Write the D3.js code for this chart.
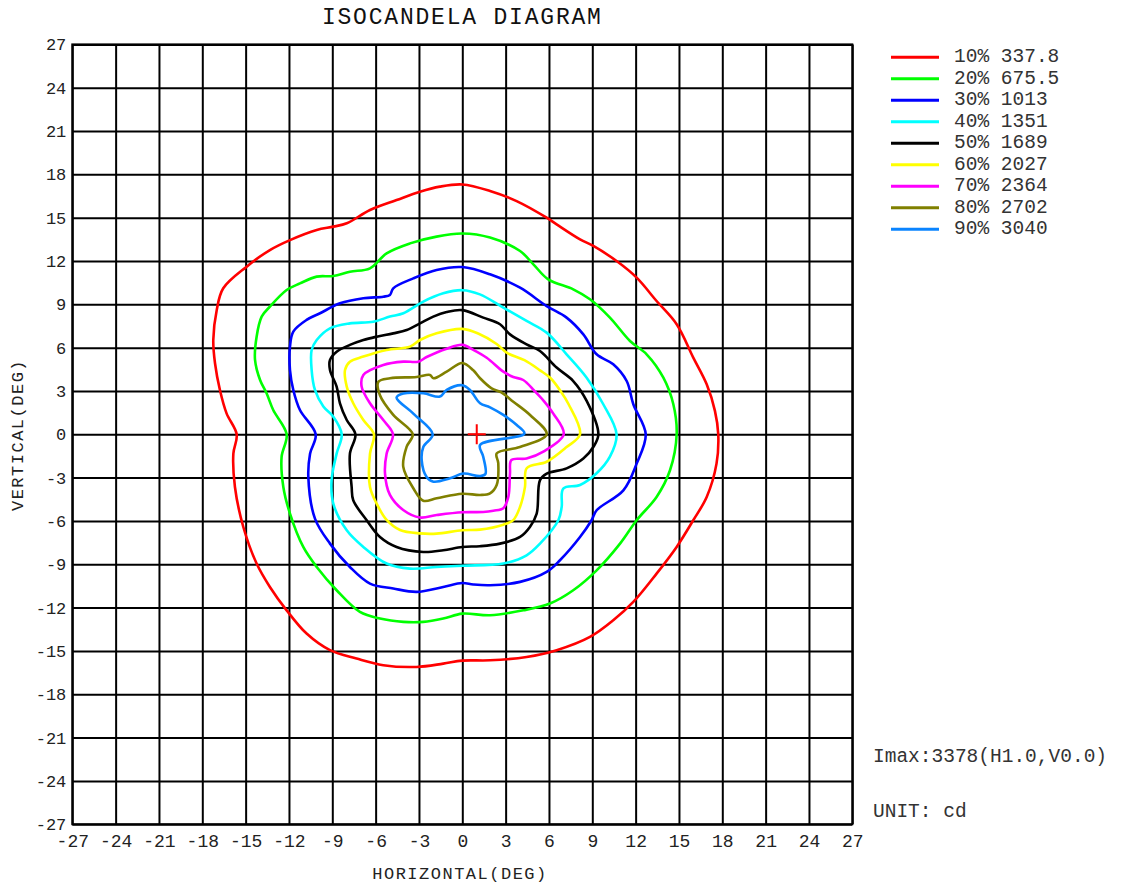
<!DOCTYPE html>
<html>
<head>
<meta charset="utf-8">
<script src="https://cdn.jsdelivr.net/npm/d3@7"></script>
<style>
  html, body { margin: 0; padding: 0; background: #fff; }
  svg { display: block; }
  text { font-family: "Liberation Mono", "Courier New", monospace; fill: #222; }
</style>
</head>
<body>
<svg id="chart" width="1126" height="884"></svg>
<script>
// ---------- DATA ----------
const hTicks = [-27,-24,-21,-18,-15,-12,-9,-6,-3,0,3,6,9,12,15,18,21,24,27];
const vTicks = [-27,-24,-21,-18,-15,-12,-9,-6,-3,0,3,6,9,12,15,18,21,24,27];
const levelPercents = ["10%","20%","30%","40%","50%","60%","70%","80%","90%"];
const levelValues = ["337.8","675.5","1013","1351","1689","2027","2364","2702","3040"];
const imaxText = "Imax:3378(H1.0,V0.0)";
const unitText = "UNIT: cd";
const imaxPos = [1.0, 0.0];

// contour polylines [horizontal deg, vertical deg]
const contour10 = [[0,17.3],[1.92,16.85],[3.76,16.15],[5.84,15.0],[6.53,14.54],[8.15,13.5],[9.07,13.04],[10.68,12.0],[12.07,10.85],[13.45,9.23],[14.84,7.62],[15.99,5.31],[16.92,3.46],[17.49,1.62],[17.72,0],[17.6,-2.03],[16.92,-4.34],[15.99,-5.95],[14.84,-7.8],[13.45,-9.65],[11.84,-11.61],[10.45,-12.88],[8.84,-14.03],[6.53,-14.95],[4.45,-15.42],[1.92,-15.65],[0,-15.67],[-1.32,-15.88],[-3.16,-16.11],[-5.47,-15.99],[-7.32,-15.53],[-9.16,-14.95],[-10.78,-13.8],[-12.16,-12.19],[-13.32,-10.57],[-14.24,-8.95],[-15.16,-6.42],[-15.74,-3.65],[-15.85,-1.34],[-15.62,0],[-16.32,1.45],[-16.78,3.07],[-17.12,4.92],[-17.24,6.53],[-17.0,8.61],[-16.55,10.11],[-14.93,11.61],[-13.32,12.76],[-11.93,13.45],[-10.08,14.15],[-8.93,14.38],[-8.0,14.61],[-6.39,15.53],[-4.55,16.22],[-2.93,16.8],[-1.55,17.15]];
const contour20 = [[0,13.9],[1.92,13.62],[4.0,12.69],[4.92,11.77],[5.95,10.73],[7.68,10.04],[8.84,9.35],[10.22,8.08],[11.61,6.46],[12.76,5.54],[13.92,3.92],[14.61,2.08],[14.84,0],[14.38,-2.49],[13.45,-4.34],[12.07,-5.95],[10.92,-7.57],[9.3,-9.42],[7.68,-10.8],[6.07,-11.72],[4.22,-12.19],[1.92,-12.53],[0,-12.42],[-1.32,-12.76],[-2.7,-12.99],[-4.08,-12.99],[-5.7,-12.76],[-7.09,-12.3],[-8.7,-10.8],[-10.08,-9.19],[-11.01,-7.8],[-11.93,-5.49],[-12.39,-3.65],[-12.51,-1.57],[-12.16,0],[-13.09,1.68],[-13.55,2.84],[-14.0,3.76],[-14.35,5.15],[-14.24,6.76],[-13.89,8.15],[-13.32,8.84],[-12.16,9.99],[-11.24,10.45],[-10.08,10.92],[-8.93,10.96],[-7.78,11.26],[-6.39,11.49],[-5.24,12.53],[-3.62,13.22],[-1.78,13.69]];
const contour30 = [[0,11.58],[1.92,11.08],[4.0,10.15],[5.84,8.88],[7.22,8.08],[8.38,6.92],[9.3,5.54],[10.45,4.85],[11.38,3.69],[11.84,2.08],[12.7,0],[12.07,-2.03],[11.15,-3.88],[9.3,-5.26],[8.95,-5.95],[8.15,-7.11],[6.76,-8.72],[5.84,-9.53],[4.0,-10.22],[1.92,-10.45],[0.76,-10.4],[0,-10.3],[-1.32,-10.57],[-3.16,-10.91],[-4.78,-10.68],[-6.39,-10.34],[-7.78,-9.19],[-9.16,-7.57],[-10.2,-5.84],[-10.66,-2.95],[-10.54,-1.34],[-10.15,0],[-11.24,1.68],[-11.7,3.07],[-11.93,4.45],[-11.93,6.07],[-11.7,7.11],[-10.78,7.92],[-9.85,8.38],[-8.47,9.07],[-6.85,9.42],[-5.47,9.53],[-5.01,9.65],[-4.78,10.11],[-3.39,10.8],[-1.78,11.38]];
const contour40 = [[0,9.98],[1.22,9.69],[2.84,8.77],[4.45,7.85],[5.84,7.04],[7.22,5.54],[8.61,3.92],[9.76,2.08],[10.68,0],[10.22,-1.55],[9.3,-2.7],[8.15,-3.51],[6.99,-3.76],[6.88,-5.03],[6.65,-5.95],[5.38,-7.57],[4.45,-8.38],[2.84,-8.95],[0,-9.1],[-1.78,-9.19],[-3.62,-9.3],[-5.24,-8.95],[-6.85,-7.8],[-8.0,-6.65],[-8.93,-4.8],[-9.05,-3.18],[-8.7,-1.34],[-8.35,0],[-8.93,1.22],[-9.62,1.92],[-10.2,3.07],[-10.43,4.45],[-10.43,5.84],[-10.08,6.53],[-9.16,7.34],[-7.78,7.68],[-6.16,7.8],[-5.01,8.15],[-4.08,8.38],[-2.7,9.19],[-1.32,9.76]];
const contour50 = [[0,8.6],[1.45,8.08],[2.61,7.62],[3.3,6.92],[4.45,6.23],[5.38,5.77],[6.53,4.62],[7.68,3.69],[8.61,2.31],[9.42,0],[9.07,-0.88],[8.38,-1.68],[7.22,-2.36],[5.84,-2.72],[5.38,-3.17],[5.15,-5.49],[4.68,-6.42],[4.0,-7.11],[2.61,-7.57],[1.22,-7.75],[0,-7.8],[-1.32,-8.03],[-2.7,-8.15],[-4.55,-7.8],[-5.7,-7.11],[-6.62,-5.95],[-7.55,-4.57],[-7.66,-3.65],[-7.78,-1.34],[-7.4,0],[-8.0,0.99],[-8.47,2.15],[-8.7,3.3],[-9.16,4.45],[-9.16,5.15],[-8.7,5.72],[-7.78,6.19],[-6.85,6.53],[-5.93,6.76],[-4.78,6.99],[-3.85,7.22],[-2.93,7.68],[-2.01,8.15],[-1.08,8.47]];
const contour60 = [[0,7.3],[1.1,6.98],[2.38,6.25],[3.07,5.65],[4.3,5.13],[5.38,4.43],[6.1,3.9],[6.8,3.0],[7.35,2.1],[8.15,0],[7.22,-0.88],[5.84,-1.9],[4.46,-2.35],[4.34,-3.64],[4.0,-5.02],[3.53,-5.94],[2.84,-6.26],[1.22,-6.6],[0,-6.64],[-1.78,-6.88],[-2.93,-6.86],[-4.31,-6.63],[-5.24,-5.93],[-5.93,-4.8],[-6.39,-3.65],[-6.39,-1.34],[-6.12,0],[-6.85,0.99],[-7.55,2.15],[-8.0,3.3],[-8.12,4.45],[-7.78,5.03],[-6.85,5.38],[-5.24,5.84],[-3.62,6.07],[-2.93,6.53],[-1.78,6.99]];
const contour70 = [[0,6.2],[0.76,5.85],[1.69,5.3],[2.84,4.34],[3.53,3.97],[4.22,3.76],[5.0,3.0],[5.65,2.3],[6.3,1.43],[7.02,0],[5.61,-1.2],[4.45,-1.68],[3.4,-1.78],[3.3,-2.72],[3.19,-4.32],[2.84,-5.12],[2.15,-5.29],[1.45,-5.38],[0,-5.4],[-1.77,-5.59],[-2.93,-5.76],[-4.09,-5.24],[-5.01,-4.2],[-5.35,-2.72],[-5.24,-1.34],[-4.8,0],[-5.47,0.99],[-6.39,2.15],[-6.97,3.3],[-6.85,4.11],[-5.47,4.8],[-4.08,5.03],[-3.05,5.03],[-2.47,5.35],[-1.08,5.93]];
const contour80 = [[0,4.94],[0.76,4.43],[1.23,3.88],[2.03,3.18],[2.7,2.9],[3.53,2.26],[4.69,1.34],[5.84,0],[3.99,-0.88],[2.38,-1.32],[2.49,-2.0],[2.38,-3.51],[1.92,-4.09],[1.23,-4.2],[0,-4.12],[-1.77,-4.43],[-2.7,-4.6],[-3.39,-3.74],[-4.09,-2.24],[-3.85,-0.86],[-3.43,0],[-4.78,1.34],[-5.7,2.7],[-5.81,3.64],[-5.0,3.88],[-3.16,3.97],[-2.24,4.11],[-2.0,3.88],[-1.08,4.34]];
const contour90 = [[0,3.4],[0.53,3.07],[1.23,2.15],[1.92,1.87],[2.84,1.34],[3.77,0.64],[4.3,0.05],[1.23,-0.74],[1.45,-1.55],[1.6,-2.75],[1.23,-2.89],[0.07,-2.72],[-0.85,-3.05],[-2.0,-3.28],[-2.47,-2.95],[-2.81,-1.8],[-2.7,-0.88],[-2.05,0],[-3.39,1.43],[-4.55,2.54],[-4.08,2.82],[-2.7,2.84],[-1.55,2.61],[-1.08,3.07]];

const contours = [contour10, contour20, contour30, contour40, contour50, contour60, contour70, contour80, contour90];
const levelColors = ["#ff0000","#00ff00","#0000ff","#00ffff","#000000","#ffff00","#ff00ff","#808000","#0a84ff"];

// ---------- DRAW ----------
const svg = d3.select("#chart");
const x = d3.scaleLinear().domain([-27, 27]).range([72.3, 852.3]);
const y = d3.scaleLinear().domain([-27, 27]).range([824.2, 44.4]);

// title
svg.append("text").attr("x", 462.3).attr("y", 24).attr("text-anchor", "middle")
  .style("font-size", "23px").style("letter-spacing", "1.8px").style("fill", "#111")
  .text("ISOCANDELA DIAGRAM");

// grid via axes
const gridX = svg.append("g").attr("transform", `translate(0,${y(-27)})`)
  .call(d3.axisBottom(x).tickValues(hTicks).tickSize(-(y(-27) - y(27))).tickFormat(""));
const gridY = svg.append("g").attr("transform", `translate(${x(-27)},0)`)
  .call(d3.axisLeft(y).tickValues(vTicks).tickSize(-(x(27) - x(-27))).tickFormat(""));
[gridX, gridY].forEach(g => {
  g.select(".domain").remove();
  g.selectAll(".tick line").attr("stroke", "#000").attr("stroke-width", 2);
});
svg.append("rect").attr("x", x(-27)).attr("y", y(27))
  .attr("width", x(27) - x(-27)).attr("height", y(-27) - y(27))
  .attr("fill", "none").attr("stroke", "#000").attr("stroke-width", 2);

// tick labels
const xLab = svg.append("g").attr("transform", `translate(0,${y(-27)})`)
  .call(d3.axisBottom(x).tickValues(hTicks).tickSize(0).tickPadding(10).tickFormat(d => String(d)));
xLab.select(".domain").remove();
xLab.selectAll("text").style("font-family", "'Liberation Mono', monospace")
  .style("font-size", "18px").attr("fill", "#333");

const yLab = svg.append("g").attr("transform", `translate(${x(-27)},0)`)
  .call(d3.axisLeft(y).tickValues(vTicks).tickSize(0).tickPadding(6).tickFormat(d => String(d)));
yLab.select(".domain").remove();
yLab.selectAll("text").style("font-family", "'Liberation Mono', monospace")
  .style("font-size", "17px").attr("fill", "#333");

// axis titles
svg.append("text").attr("x", 460).attr("y", 879).attr("text-anchor", "middle")
  .style("font-size", "17px").style("letter-spacing", "1.5px").text("HORIZONTAL(DEG)");
svg.append("text").attr("transform", `translate(23,435) rotate(-90)`).attr("text-anchor", "middle")
  .style("font-size", "17px").style("letter-spacing", "1.5px").text("VERTICAL(DEG)");

// contours
const line = d3.line().x(d => x(d[0])).y(d => y(d[1])).curve(d3.curveCatmullRomClosed.alpha(0.5));
svg.append("g").selectAll("path").data(contours).join("path")
  .attr("d", d => line(d))
  .attr("fill", "none")
  .attr("stroke", (d, i) => levelColors[i])
  .attr("stroke-width", 2.6)
  .attr("stroke-linejoin", "round");

// Imax marker
const cx = x(imaxPos[0]), cy = y(imaxPos[1]);
svg.append("path").attr("d", `M${cx - 9},${cy}H${cx + 9}M${cx},${cy - 10}V${cy + 10}`)
  .attr("stroke", "#ff0000").attr("stroke-width", 2);

// legend
const leg = svg.append("g").selectAll("g").data(levelPercents).join("g")
  .attr("transform", (d, i) => `translate(0,${57.3 + i * 21.5})`);
leg.append("line").attr("x1", 891).attr("x2", 939).attr("y1", 0).attr("y2", 0)
  .attr("stroke", (d, i) => levelColors[i]).attr("stroke-width", 3);
leg.append("text").attr("x", 954).attr("y", 5)
  .style("font-size", "19.5px").style("fill", "#333")
  .text((d, i) => `${d} ${levelValues[i]}`);

// info text
svg.append("text").attr("x", 873).attr("y", 762).style("font-size", "19.5px").style("fill", "#333").text(imaxText);
svg.append("text").attr("x", 873).attr("y", 817).style("font-size", "19.5px").style("fill", "#333").text(unitText);
</script>
</body>
</html>
